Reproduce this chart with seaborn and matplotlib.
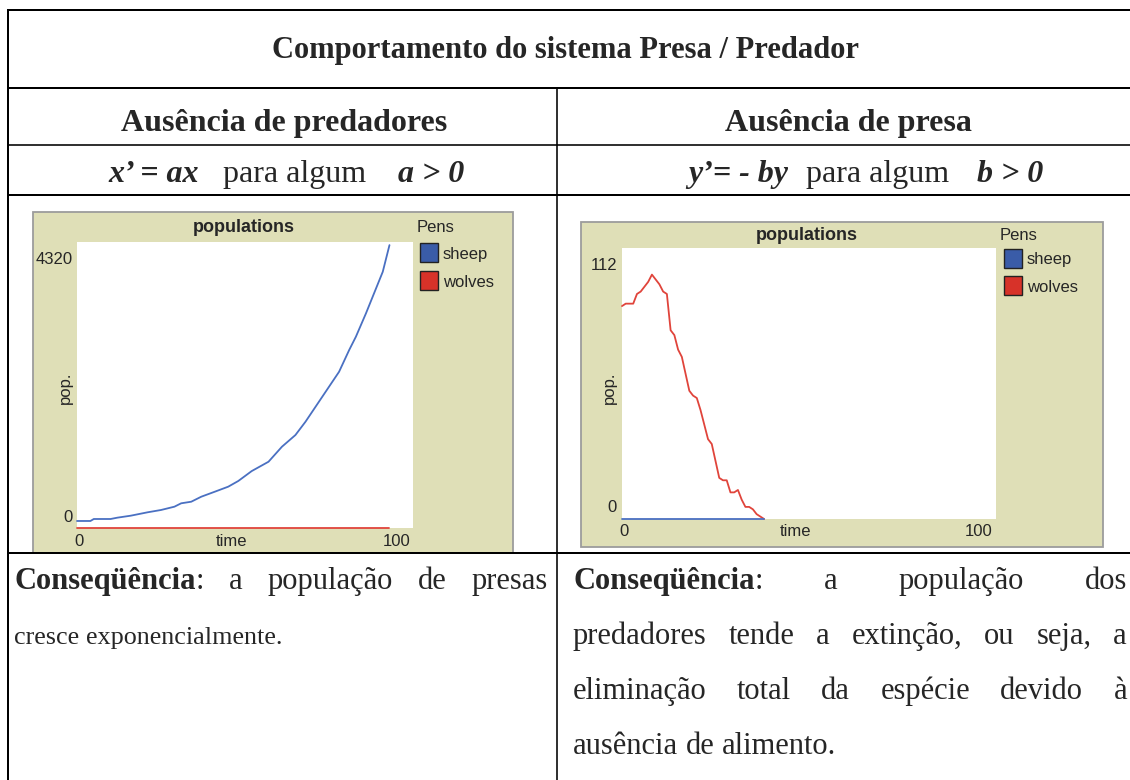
import matplotlib
matplotlib.use("Agg")
import matplotlib.pyplot as plt
import seaborn as sns
import pandas as pd
from matplotlib.patches import Rectangle
from matplotlib.lines import Line2D

# ---------------- data ----------------
left_sheep_time = [0, 4, 5, 10, 12, 16, 21, 25, 29, 31, 34, 37, 41, 45, 48, 52,
                   57, 61, 65, 68, 72, 76, 78, 81, 83, 86, 89, 91, 93]
left_sheep = [106, 106, 136, 136, 156, 186, 237, 272, 322, 373, 397, 473, 548, 624,
              710, 860, 1001, 1228, 1404, 1605, 1907, 2209, 2360, 2688, 2889, 3242,
              3619, 3870, 4273]
left_wolves_time = [0, 93]
left_wolves = [0, 0]
left_ymax = 4320

right_wolves_time = [0, 1, 2, 3, 4, 5, 6, 7, 8, 9, 10, 11, 12, 13, 14, 15, 16, 17, 18, 19,
                     20, 21, 22, 23, 24, 25, 26, 27, 28, 29, 30, 31, 32, 33, 34, 35, 36, 37, 38]
right_wolves = [88, 89, 89, 89, 93, 94, 96, 98, 101, 99, 97, 94, 93, 78, 76, 70, 67, 60, 53, 51,
                50, 45, 39, 33, 31, 24, 17, 16, 16, 11, 11, 12, 8, 5, 5, 4, 2, 1, 0]
right_sheep_time = [0, 38]
right_sheep = [0, 0]
right_ymax = 112

pens = ["sheep", "wolves"]
pen_colors = {"sheep": "#4a70c2", "wolves": "#e0443b"}
swatch_colors = {"sheep": "#3a5ca8", "wolves": "#d73229"}

title = "Comportamento do sistema Presa / Predador"
head_left = "Ausência de predadores"
head_right = "Ausência de presa"

# ---------------- figure helpers ----------------
W, H = 1130, 780
sns.set_theme(style="white")
plt.rcParams["font.family"] = ["Liberation Sans", "DejaVu Sans"]
fig = plt.figure(figsize=(W / 100, H / 100), dpi=100)
fig.patch.set_facecolor("white")
renderer = fig.canvas.get_renderer()

SERIF = ["Liberation Serif", "DejaVu Serif"]
SANS = ["Liberation Sans", "DejaVu Sans"]


def fx(x):
    return x / W


def fy(y):
    return 1 - y / H


def ptext(x, y, s, **kw):
    return fig.text(fx(x), fy(y), s, **kw)


def line(x0, y0, x1, y1, lw=2.0, color="black"):
    fig.add_artist(Line2D([fx(x0), fx(x1)], [fy(y0), fy(y1)], color=color,
                          lw=lw * 0.72, transform=fig.transFigure, zorder=2,
                          solid_capstyle="projecting"))


def measure(t):
    return t.get_window_extent(renderer).width


def place_word(segs, x, y, size):
    """segs: list of (text, weight, style); returns end x."""
    for s, wgt, sty in segs:
        t = ptext(x, y, s, fontsize=size, family=SERIF, fontweight=wgt,
                  fontstyle=sty, ha="left", va="baseline")
        x += measure(t)
    return x


def word_width(segs, size):
    w = 0
    for s, wgt, sty in segs:
        t = fig.text(0, 0, s, fontsize=size, family=SERIF, fontweight=wgt, fontstyle=sty)
        w += measure(t)
        t.remove()
    return w


def text_line(words, x0, x1, y, size, justify=True):
    widths = [word_width(w, size) for w in words]
    if justify and len(words) > 1:
        gap = (x1 - x0 - sum(widths)) / (len(words) - 1)
    else:
        gap = size * 100 / 72 * 0.25
    x = x0
    for w, wd in zip(words, widths):
        place_word(w, x, y, size)
        x += wd + gap


def group_centered(pieces, gaps, xc, y, size):
    widths = [word_width(p, size) for p in pieces]
    total = sum(widths) + sum(gaps)
    x = xc - total / 2
    for i, (p, wd) in enumerate(zip(pieces, widths)):
        place_word(p, x, y, size)
        x += wd + (gaps[i] if i < len(gaps) else 0)


def N(s):
    return [(s, "normal", "normal")]


def BI(s):
    return [(s, "bold", "italic")]


def words_of(s):
    return [N(w) for w in s.split()]


# ---------------- table ----------------
TL, TR, DIV = 8, 1131, 557
Y_TOP, Y1, Y2, Y3, Y4 = 10, 88, 145, 195, 553
line(TL, Y_TOP, TR, Y_TOP)
line(TL, Y1, TR, Y1)
line(TL, Y2, TR, Y2, lw=1.6)
line(TL, Y3, TR, Y3)
line(TL, Y4, TR, Y4)
line(TL, Y_TOP, TL, H + 2)
line(DIV, Y1, DIV, H + 2, lw=1.6)

ptext(565, 58, title, fontsize=22, family=SERIF, fontweight="bold", ha="center", va="baseline")
ptext(284, 131, head_left, fontsize=23, family=SERIF, fontweight="bold", ha="center", va="baseline")
ptext(848, 131, head_right, fontsize=23, family=SERIF, fontweight="bold", ha="center", va="baseline")

FS_F = 23
group_centered([BI("x’ = ax"), N("para algum"), BI("a > 0")], [24, 32], 286, 182, FS_F)
group_centered([BI("y’= - by"), N("para algum"), BI("b > 0")], [18, 28], 866, 182, FS_F)

FS_B = 22
conseq = [("Conseqüência", "bold", "normal"), (":", "normal", "normal")]
text_line([conseq] + words_of("a população de presas"), 14, 548, 589, FS_B)
text_line(words_of("cresce exponencialmente."), 14, 548, 644, 18.8, justify=False)
text_line([conseq] + words_of("a população dos"), 573, 1127, 589, FS_B)
text_line(words_of("predadores tende a extinção, ou seja, a"), 573, 1127, 644, FS_B)
text_line(words_of("eliminação total da espécie devido à"), 573, 1127, 699, FS_B)
text_line(words_of("ausência de alimento."), 573, 1127, 754, FS_B, justify=False)

# ---------------- NetLogo-style plots ----------------
BEIGE = "#dfdfb7"


def netlogo_plot(panel, area, ymax, series, labels):
    px0, py0, px1, py1 = panel
    fig.add_artist(Rectangle((fx(px0), fy(py1)), (px1 - px0) / W, (py1 - py0) / H,
                             transform=fig.transFigure, facecolor=BEIGE,
                             edgecolor="#9c9c9c", lw=1.3, zorder=-1))
    ax0, ay0, ax1, ay1 = area
    ax = fig.add_axes([fx(ax0), fy(ay1), (ax1 - ax0) / W, (ay1 - ay0) / H])
    frames = []
    for pen, (t, v) in series.items():
        frames.append(pd.DataFrame({"time": t, "pop": v, "pen": pen}))
    df = pd.concat(frames, ignore_index=True)
    sns.lineplot(data=df, x="time", y="pop", hue="pen", palette=pen_colors,
                 estimator=None, sort=False, legend=False, linewidth=1.3, ax=ax)
    for ln in ax.lines:
        ln.set_clip_on(False)
    ax.set_xlim(0, 100)
    ax.set_ylim(0, ymax)
    ax.set_facecolor("white")
    for sp in ax.spines.values():
        sp.set_visible(False)
    ax.set_xticks([])
    ax.set_yticks([])
    ax.set_xlabel("")
    ax.set_ylabel("")
    fs = 12
    ptext(*labels["title"], "populations", fontsize=13, fontweight="bold", family=SANS,
          ha="center", va="center")
    ptext(*labels["ymax"], str(ymax), fontsize=fs, family=SANS, ha="right", va="center")
    ptext(*labels["ymin"], "0", fontsize=fs, family=SANS, ha="right", va="center")
    ptext(*labels["ylab"], "pop.", fontsize=fs, family=SANS, ha="center", va="center",
          rotation=90)
    ptext(*labels["xmin"], "0", fontsize=fs, family=SANS, ha="center", va="center")
    ptext(*labels["xlab"], "time", fontsize=fs, family=SANS, ha="center", va="center")
    ptext(*labels["xmax"], "100", fontsize=fs, family=SANS, ha="right", va="center")
    lx, ly = labels["pens"]
    ptext(lx, ly, "Pens", fontsize=fs, family=SANS, ha="left", va="center")
    for i, pen in enumerate(pens):
        bx, by = labels["box"]
        by = by + i * labels["step"]
        fig.add_artist(Rectangle((fx(bx), fy(by + 19)), 18 / W, 19 / H,
                                 transform=fig.transFigure,
                                 facecolor=swatch_colors[pen], edgecolor="#222222",
                                 lw=1.0, zorder=3))
        ptext(bx + 23, by + 11, pen, fontsize=fs, family=SANS, ha="left", va="center")
    return ax


netlogo_plot((33, 212, 513, 553), (77, 242, 413, 528), left_ymax,
             {"sheep": (left_sheep_time, left_sheep),
              "wolves": (left_wolves_time, left_wolves)},
             {"title": (244, 227), "ymax": (73, 259), "ymin": (73, 517),
              "ylab": (65, 388), "xmin": (79, 541), "xlab": (232, 541),
              "xmax": (410, 541), "pens": (417, 228), "box": (420, 243), "step": 28})

netlogo_plot((581, 222, 1103, 547), (622, 248, 996, 519), right_ymax,
             {"wolves": (right_wolves_time, right_wolves),
              "sheep": (right_sheep_time, right_sheep)},
             {"title": (807, 235), "ymax": (617, 265), "ymin": (617, 508),
              "ylab": (609, 388), "xmin": (624, 532), "xlab": (795, 532),
              "xmax": (992, 532), "pens": (1000, 235), "box": (1004, 249), "step": 27})

fig.savefig("out.png", dpi=100)
